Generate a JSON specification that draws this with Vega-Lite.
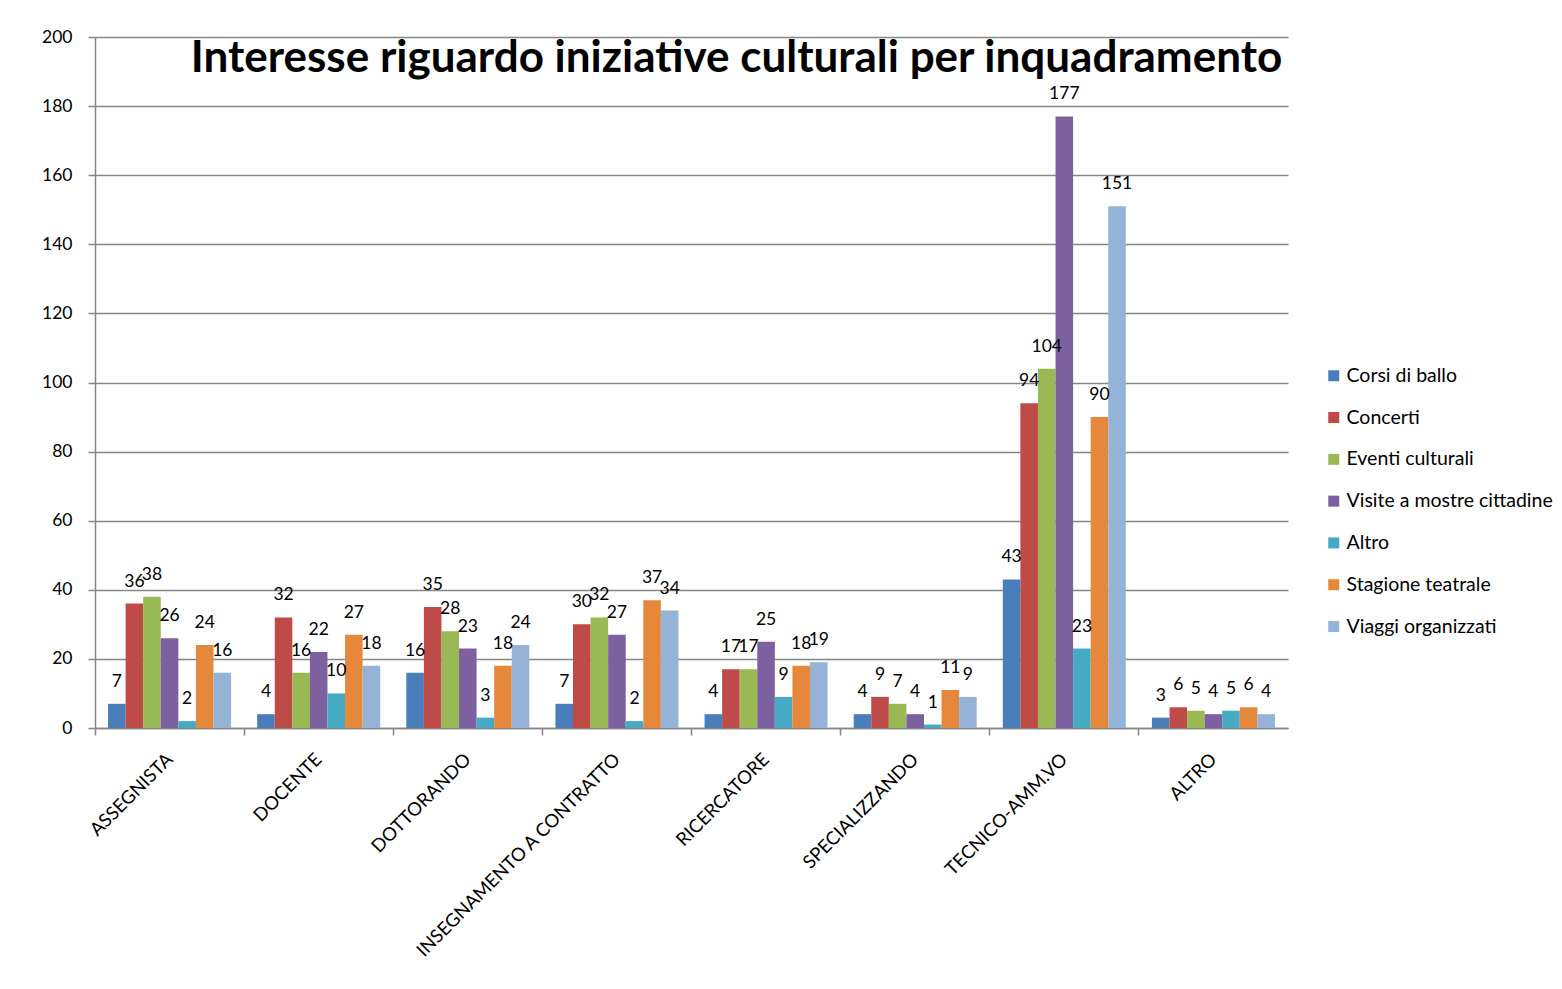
{
  "$schema": "https://vega.github.io/schema/vega-lite/v6.json",
  "autosize": {"type": "none"},
  "padding": {"left": 95, "top": 37, "right": 274, "bottom": 261},
  "width": 1193,
  "height": 691,
  "background": "white",
  "config": {
    "font": "Lato",
    "view": {"stroke": null}
  },
  "title": {
    "text": "Interesse riguardo iniziative culturali per inquadramento",
    "font": "Lato",
    "fontSize": 44,
    "fontWeight": "bold",
    "color": "black",
    "anchor": "middle",
    "frame": "group",
    "dx": 45,
    "offset": -53
  },
  "data": {
    "values": [
      {"cat": "ASSEGNISTA", "serie": "Corsi di ballo", "v": 7},
      {"cat": "ASSEGNISTA", "serie": "Concerti", "v": 36},
      {"cat": "ASSEGNISTA", "serie": "Eventi culturali", "v": 38},
      {"cat": "ASSEGNISTA", "serie": "Visite a mostre cittadine", "v": 26},
      {"cat": "ASSEGNISTA", "serie": "Altro", "v": 2},
      {"cat": "ASSEGNISTA", "serie": "Stagione teatrale", "v": 24},
      {"cat": "ASSEGNISTA", "serie": "Viaggi organizzati", "v": 16},
      {"cat": "DOCENTE", "serie": "Corsi di ballo", "v": 4},
      {"cat": "DOCENTE", "serie": "Concerti", "v": 32},
      {"cat": "DOCENTE", "serie": "Eventi culturali", "v": 16},
      {"cat": "DOCENTE", "serie": "Visite a mostre cittadine", "v": 22},
      {"cat": "DOCENTE", "serie": "Altro", "v": 10},
      {"cat": "DOCENTE", "serie": "Stagione teatrale", "v": 27},
      {"cat": "DOCENTE", "serie": "Viaggi organizzati", "v": 18},
      {"cat": "DOTTORANDO", "serie": "Corsi di ballo", "v": 16},
      {"cat": "DOTTORANDO", "serie": "Concerti", "v": 35},
      {"cat": "DOTTORANDO", "serie": "Eventi culturali", "v": 28},
      {"cat": "DOTTORANDO", "serie": "Visite a mostre cittadine", "v": 23},
      {"cat": "DOTTORANDO", "serie": "Altro", "v": 3},
      {"cat": "DOTTORANDO", "serie": "Stagione teatrale", "v": 18},
      {"cat": "DOTTORANDO", "serie": "Viaggi organizzati", "v": 24},
      {"cat": "INSEGNAMENTO A CONTRATTO", "serie": "Corsi di ballo", "v": 7},
      {"cat": "INSEGNAMENTO A CONTRATTO", "serie": "Concerti", "v": 30},
      {"cat": "INSEGNAMENTO A CONTRATTO", "serie": "Eventi culturali", "v": 32},
      {"cat": "INSEGNAMENTO A CONTRATTO", "serie": "Visite a mostre cittadine", "v": 27},
      {"cat": "INSEGNAMENTO A CONTRATTO", "serie": "Altro", "v": 2},
      {"cat": "INSEGNAMENTO A CONTRATTO", "serie": "Stagione teatrale", "v": 37},
      {"cat": "INSEGNAMENTO A CONTRATTO", "serie": "Viaggi organizzati", "v": 34},
      {"cat": "RICERCATORE", "serie": "Corsi di ballo", "v": 4},
      {"cat": "RICERCATORE", "serie": "Concerti", "v": 17},
      {"cat": "RICERCATORE", "serie": "Eventi culturali", "v": 17},
      {"cat": "RICERCATORE", "serie": "Visite a mostre cittadine", "v": 25},
      {"cat": "RICERCATORE", "serie": "Altro", "v": 9},
      {"cat": "RICERCATORE", "serie": "Stagione teatrale", "v": 18},
      {"cat": "RICERCATORE", "serie": "Viaggi organizzati", "v": 19},
      {"cat": "SPECIALIZZANDO", "serie": "Corsi di ballo", "v": 4},
      {"cat": "SPECIALIZZANDO", "serie": "Concerti", "v": 9},
      {"cat": "SPECIALIZZANDO", "serie": "Eventi culturali", "v": 7},
      {"cat": "SPECIALIZZANDO", "serie": "Visite a mostre cittadine", "v": 4},
      {"cat": "SPECIALIZZANDO", "serie": "Altro", "v": 1},
      {"cat": "SPECIALIZZANDO", "serie": "Stagione teatrale", "v": 11},
      {"cat": "SPECIALIZZANDO", "serie": "Viaggi organizzati", "v": 9},
      {"cat": "TECNICO-AMM.VO", "serie": "Corsi di ballo", "v": 43},
      {"cat": "TECNICO-AMM.VO", "serie": "Concerti", "v": 94},
      {"cat": "TECNICO-AMM.VO", "serie": "Eventi culturali", "v": 104},
      {"cat": "TECNICO-AMM.VO", "serie": "Visite a mostre cittadine", "v": 177},
      {"cat": "TECNICO-AMM.VO", "serie": "Altro", "v": 23},
      {"cat": "TECNICO-AMM.VO", "serie": "Stagione teatrale", "v": 90},
      {"cat": "TECNICO-AMM.VO", "serie": "Viaggi organizzati", "v": 151},
      {"cat": "ALTRO", "serie": "Corsi di ballo", "v": 3},
      {"cat": "ALTRO", "serie": "Concerti", "v": 6},
      {"cat": "ALTRO", "serie": "Eventi culturali", "v": 5},
      {"cat": "ALTRO", "serie": "Visite a mostre cittadine", "v": 4},
      {"cat": "ALTRO", "serie": "Altro", "v": 5},
      {"cat": "ALTRO", "serie": "Stagione teatrale", "v": 6},
      {"cat": "ALTRO", "serie": "Viaggi organizzati", "v": 4}
    ]
  },
  "encoding": {
    "x": {
      "field": "cat",
      "type": "nominal",
      "sort": null,
      "scale": {"paddingInner": 0.175, "paddingOuter": 0.0875},
      "axis": {
        "title": null,
        "labelAngle": -45,
        "labelAlign": "right",
        "labelBaseline": "middle",
        "labelFontSize": 18.5,
        "labelColor": "black",
        "labelPadding": 21,
        "tickSize": 7,
        "tickColor": "#868686",
        "tickWidth": 1.5,
        "domainColor": "#868686",
        "domainWidth": 1.5,
        "bandPosition": -0.106,
        "labelLimit": 400
      }
    },
    "xOffset": {
      "field": "serie",
      "type": "nominal",
      "sort": null,
      "scale": {"paddingInner": 0, "paddingOuter": 0}
    },
    "y": {
      "field": "v",
      "type": "quantitative",
      "scale": {"domain": [0, 200], "nice": false},
      "axis": {
        "title": null,
        "values": [0, 20, 40, 60, 80, 100, 120, 140, 160, 180, 200],
        "labelFontSize": 17.5,
        "labelColor": "black",
        "labelPadding": 16,
        "tickSize": 7,
        "tickColor": "#868686",
        "tickWidth": 1.5,
        "domainColor": "#868686",
        "domainWidth": 1.5,
        "gridColor": "#868686",
        "gridWidth": 1.5,
        "gridOpacity": 1
      }
    },
    "color": {
      "field": "serie",
      "type": "nominal",
      "sort": null,
      "scale": {
        "domain": ["Corsi di ballo", "Concerti", "Eventi culturali", "Visite a mostre cittadine", "Altro", "Stagione teatrale", "Viaggi organizzati"],
        "range": ["#4A7EBB", "#BE4B48", "#98B954", "#7D60A0", "#46AAC5", "#E6883B", "#94B3D6"]
      },
      "legend": {
        "title": null,
        "orient": "none",
        "legendX": 1229,
        "legendY": 329,
        "symbolType": "square",
        "symbolSize": 121,
        "symbolStrokeWidth": 0,
        "labelFontSize": 19.5,
        "labelColor": "black",
        "labelOffset": 3,
        "rowPadding": 20.8,
        "labelLimit": 300
      }
    }
  },
  "layer": [
    {"mark": {"type": "bar", "stroke": null}},
    {
      "mark": {"type": "text", "fontSize": 17.5, "color": "black", "baseline": "middle", "dy": -22},
      "encoding": {"text": {"field": "v", "type": "quantitative"}, "color": {"value": "black"}}
    }
  ]
}
